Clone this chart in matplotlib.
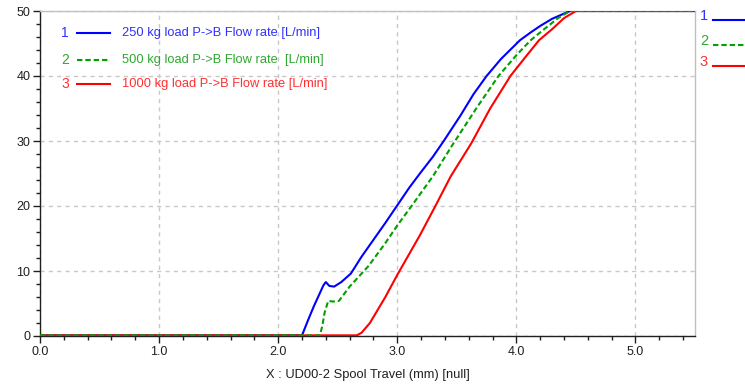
import matplotlib
matplotlib.use("Agg")
import matplotlib.pyplot as plt
from matplotlib.lines import Line2D
from matplotlib.ticker import MultipleLocator, FormatStrFormatter

plt.rcParams['font.family'] = ['Liberation Sans', 'DejaVu Sans']

# ---- data ----
blue_x = [0.0, 2.20, 2.25, 2.30, 2.35, 2.38, 2.40, 2.43, 2.47, 2.53, 2.61, 2.70, 2.80, 2.90,
          3.00, 3.10, 3.19, 3.30, 3.39, 3.53, 3.64, 3.75, 3.87, 4.03, 4.12, 4.20,
          4.30, 4.40, 4.45, 5.50]
blue_y = [0.1, 0.1, 2.4, 4.6, 6.6, 7.8, 8.3, 7.7, 7.6, 8.3, 9.6, 12.2, 14.8, 17.4,
          20.1, 22.8, 25.0, 27.6, 30.0, 33.9, 37.2, 40.0, 42.6, 45.5, 46.7, 47.7,
          48.8, 49.6, 50.0, 50.0]

green_x = [0.0, 2.35, 2.37, 2.39, 2.42, 2.46, 2.51, 2.60, 2.76, 2.90, 3.00, 3.12, 3.30,
           3.46, 3.67, 3.85, 4.00, 4.12, 4.26, 4.35, 4.45, 5.50]
green_y = [0.1, 0.1, 1.5, 3.6, 5.4, 5.3, 5.4, 7.6, 10.8, 14.3, 17.0, 20.0, 24.6,
           29.3, 35.2, 40.0, 43.2, 45.5, 47.6, 48.9, 50.0, 50.0]

red_x = [0.0, 2.66, 2.70, 2.77, 2.90, 3.00, 3.19, 3.32, 3.45, 3.62, 3.78, 3.95,
         4.08, 4.19, 4.30, 4.40, 4.50, 5.50]
red_y = [0.1, 0.1, 0.5, 2.0, 6.0, 9.4, 15.5, 20.0, 24.6, 29.6, 35.0, 40.0,
         43.0, 45.5, 47.2, 48.9, 50.0, 50.0]

labels = ["250 kg load P->B Flow rate [L/min]",
          "500 kg load P->B Flow rate  [L/min]",
          "1000 kg load P->B Flow rate [L/min]"]
numbers = ["1", "2", "3"]
xlabel = "X : UD00-2 Spool Travel (mm) [null]"

line_colors = ["#0000FF", "#00A000", "#FF0000"]
text_colors = ["#3030FF", "#30A830", "#FF3030"]

fig = plt.figure(figsize=(7.45, 3.88), dpi=100)
ax = fig.add_axes([40/745, 1-336/388, 655/745, 325/388])

ax.plot(blue_x, blue_y, color=line_colors[0], lw=1.5, zorder=3)
ax.plot(red_x, red_y, color=line_colors[2], lw=1.5, zorder=3)
ax.plot(green_x, green_y, color=line_colors[1], lw=1.5, dashes=(2.6, 1.4), zorder=4)

ax.set_xlim(0, 5.5)
ax.set_ylim(0, 50)
ax.xaxis.set_major_locator(MultipleLocator(1.0))
ax.xaxis.set_minor_locator(MultipleLocator(0.2))
ax.xaxis.set_major_formatter(FormatStrFormatter('%.1f'))
ax.yaxis.set_major_locator(MultipleLocator(10))
ax.yaxis.set_minor_locator(MultipleLocator(2))

ax.grid(True, which='major', color='#C8C8C8', linestyle=(0, (3, 3)), lw=1.0, zorder=1)
for s in ['top', 'right']:
    ax.spines[s].set_color('#C0C0C0')
    ax.spines[s].set_linewidth(1.0)
for s in ['left', 'bottom']:
    ax.spines[s].set_color('#202020')
    ax.spines[s].set_linewidth(1.0)

ax.tick_params(which='major', direction='out', length=5, width=1, color='#202020',
               labelsize=9, pad=2, labelcolor='#202020')
ax.tick_params(which='minor', direction='out', length=3, width=1, color='#202020')
ax.set_xlabel(xlabel, fontsize=9.3, labelpad=8, color='#202020')

# inner legend
rows_y = [33, 60, 84]
for i in range(3):
    yf = 1 - rows_y[i] / 388
    fig.text(65/745, yf, numbers[i], color=text_colors[i], fontsize=10,
             ha='center', va='center')
    ls = dict(color=line_colors[i], lw=1.5)
    if i == 1:
        ls['dashes'] = (2.6, 1.4)
    fig.add_artist(Line2D([77/745, 110/745], [yf, yf], transform=fig.transFigure, **ls))
    fig.text(122/745, yf, labels[i], color=text_colors[i], fontsize=9.3,
             ha='left', va='center')

# outer right legend
rows_r = [16, 41, 62]
for i in range(3):
    yf = 1 - rows_r[i] / 388
    fig.text(704/745, yf, numbers[i], color=text_colors[i], fontsize=10.5,
             ha='center', va='center')
    ls = dict(color=line_colors[i], lw=1.5)
    if i == 1:
        ls['dashes'] = (2.6, 1.4)
    ly = yf - 4/388
    fig.add_artist(Line2D([713/745, 748/745], [ly, ly], transform=fig.transFigure, **ls))

fig.savefig("out.png", dpi=100)
